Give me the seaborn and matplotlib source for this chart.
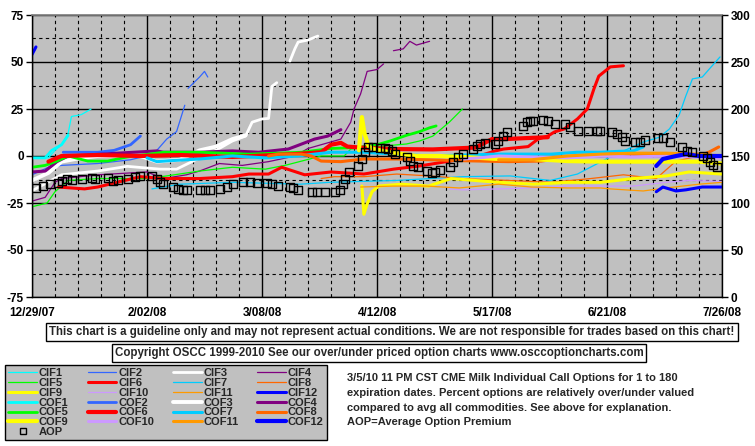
import numpy as np
import pandas as pd
import matplotlib
matplotlib.use("Agg")
import matplotlib.pyplot as plt
from matplotlib.lines import Line2D
import seaborn as sns

start = pd.Timestamp("2007-12-29")
end = pd.Timestamp("2008-07-26")

# day offsets from 12/29/07 and percent over/under values (None = gap)
cif1_d = [0, 5, 7, 9, 11, 12, 15, 18]
cif1_v = [-1, -1, 3, 6, 12, 21, 22, 25]
cof1_d = [0, 4, 6, 9, 11]
cof1_v = [-1, -1, 3, 6, 11]

cif2_d = [0, 5, 9, 20, 30, 37, 41, 44, 46.5, None, 47.5, 51, 52.5, 53.5]
cif2_v = [-10, -6, -5, -4, -2, 1, 9, 13, 27, None, 36, 42, 45, 42]
cof2_d = [9.5, 20, 25, 30, 33]
cof2_v = [2, 2, 3, 6, 10.6]

cif3_d = [0, 9, 20, 29, 39, 44, 51, 56, 61, 65, 67, 70, 72, 73, 74.5, None, 78.5, 80, 81, 84, 87]
cif3_v = [-18.5, -10, -8, -5.5, -7, -7, -1, 3, 8, 10.6, 18, 19.7, 20, 37, 39, None, 50.5, 57, 60.6, 61.7, 63.8]
cof3_d = [0, 5, 9, 15, 20, 28, 33, 38, 45, 51, 56, 61, 65]
cof3_v = [-13, -9, -3, -1, 0, 0, 0, -3, -2, 3, 5, 9, 11]

cif4_d = [0, 4, 7, 9, 20, 35, 40, 47, 51, 57, 64, 72, 80, 84, 90, 94, 97, 98, 100, 102, 105, 107,
          None, 110, 113, 115, 117, 121]
cif4_v = [-24, -22, -14, -12, -10, -8.5, -12, -10, -8, -4, -5, -3, 0, 4, 7, 9, 18, 25, 33, 45, 46, 49,
          None, 56, 57, 61, 59, 61]
cof4_d = [0, 4, 7.6, 11, 38, 40, 46, 51, 61, 69, 78, 80, 86, 90, 94]
cof4_v = [-8.5, -8, -3, 0, 2.7, 2, 2, 2, 2.7, 2, 3.7, 5, 9, 10.6, 14]

cif5_d = [0, 4.6, 7, 11, 20, 35, 41, 51, 61, 71, 77, 88, 95, 97, 114, 118, 122, 127, 131]
cif5_v = [-27, -25, -19, -13, -12, -12, -10.6, -8, -6, -7, -5, 0, 0, 3.7, 6.4, 8, 10.6, 18, 25]
cof5_d = [0, 4, 7.6, 11, 17, 23, 29, 40, 51, 66, 82, 91, 99, 105, 109, 114, 118, 121, 123]
cof5_v = [-6, -5, -2.7, 0, -2.7, -2.7, -0.5, 2, 2, 1, 2, 4, 4.5, 6, 8, 11, 13, 15, 16]

cif6_d = [8, 16, 20, 33, 40, 51, 61, 66, 72, 76, 83, 91, 101, 110, 118, 131, 136, 141, 143.5, 151,
          154, 157, 159, 162, 166, 169, 171, 172.5, 176, 180]
cif6_v = [-16.5, -17.5, -16.5, -11, -12, -12, -11, -9.6, -9.6, -6, -10, -8.5, -9.6, -7, -5.3, -1.6, 0,
          2.7, 3.7, 5, 9, 10.6, 12.8, 14.4, 19.7, 25, 35.6, 42.5, 47.4, 48]
cof6_d = [5, 9, 20, 33, 45, 61, 80, 88, 91, 94, 96, 100, 110, 122, 135, 140, 144, 150, 157]
cof6_v = [-3, 0, 0.5, 0, 0.5, -0.5, 1, 2, 6, 7, 5, 4.5, 3.7, 3.5, 4.5, 9, 9, 9.5, 10]

cif7_d = [36.5, 45, 61, 81.6, 90.7, 111, 131, 145.5, 157.7, 166, 170.7, 176, 186, 191, 194, 197,
          199, 201, 204, 206, 209.4]
cif7_v = [-17.5, -15, -14, -15, -14, -13, -11, -10.6, -13, -9.6, -5.3, -0.5, 7.4, 10, 14.4, 22,
          32, 41, 42, 46, 52.7]
cof7_d = [35, 38, 42, 51, 61, 71, 81, 91, 101, 111, 121, 131, 141, 151, 158, 166, 173, 179, 183, 186]
cof7_v = [-1, -3, -2.5, -1.6, 0, -1, 0, 2, 2, 1, 0, 0.5, 1, 1, 1, 2, 2, 2.5, 2.7, 4.8]

cif8_d = [88, 92, 101, 111, 121, 131, 145, 158, 170, 180, 190, 196, 203, 207, 209]
cif8_v = [-12, -11, -11, -9.6, -10.6, -12, -13, -14, -12, -10, -12, -2.7, 0, 2.7, 4.8]
cof8_d = [72, 75, 82, 85, 88, 94, 101, 111, 121, 131, 145, 155, 166, 176, 186, 196, 203, 206, 209]
cof8_v = [0, 1, 1, 0, -2.7, -3, -1.6, -1.6, -2, -2.5, -3, -2.7, 0, 1, 1, 1, 0, 2, 4.8]

cif9_d = [100.4, 101, 102, 103.5, 105.5, 112.5, 120.7, 127.5, 142, 152.5, 163, 173, 183, 193, 200, 210]
cif9_v = [-16, -31, -25.5, -19, -16, -15, -16, -12, -14, -15, -14, -14, -12, -10.6, -8.5, -9.6]
cof9_d = [99.5, 100.4, 101.2, 102.5, 104, 109, 117, 124, 131, 142, 152, 163, 173, 183, 193, 203, 210]
cof9_v = [3, 20.7, 12, 5, 3.7, 2, 0, 0, -0.5, -1.6, -1.6, -2.7, -3, -3, -3, -3, -4]

cif10_d = [127, 131, 142, 152, 163, 173, 183, 193, 200, 210]
cif10_v = [-17.5, -18, -17.5, -17, -16, -16, -16, -14, -13, -13.5]
cof10_d = [131, 136, 142, 152, 163, 173, 183, 193, 203, 210]
cof10_v = [-1.6, -1, 0, -0.5, -1, 0, -0.5, 0, -0.5, -1]

cif11_d = [100, 110, 120, 130, 142, 152, 163, 173, 176, 186, 193, 203, 210]
cif11_v = [-16.5, -16, -16, -17, -15, -16.5, -17, -17, -17.5, -18.6, -17, -15, -14]
cof11_d = [142, 152, 163, 173, 183, 193, 203, 210]
cof11_v = [-2, -2, 0, 1, 1.5, 1.5, 1, 0]

cif12_d = [0, 1.2, None, 190, 192, 196, 199, 204, 210]
cif12_v = [54, 58, None, -19, -16.5, -18.6, -18, -16.5, -16.5]
cof12_d = [190, 192, 196, 199, 203, 210]
cof12_v = [-5.3, -1.6, 0, 1, 0, 0]

# average option premium (right axis)
aop_d = [1.2, 3.3, 5.5, 7.9, 9.1, 10.7, 12.2, 15.2, 18.3, 19.2,
         23.1, 24.7, 26.2, 29.2, 31.3, 32.9, 36.5, 38, 39, 39.9,
         42.9, 44.4, 46, 47.2, 51.1, 52.7, 54.2, 57.2, 59.3, 61.2,
         64.2, 66.3, 68.5, 71.5, 73, 74.9, 78.5, 79.4, 81, 85.2,
         86.7, 89.2, 92.2, 93.7, 94.7, 95.3, 96.5, 99.2, 100.4, 101.3,
         102.3, 103.8, 105.9, 107.4, 108.3, 109.6, 110.5, 114.1, 115, 116,
         117.5, 120.2, 121.7, 122.7, 124.2, 127.2, 128.1, 129.7, 131.2, 134.2,
         135.4, 136.3, 137.9, 140.9, 141.8, 143.3, 144.6, 149.4, 150.7, 151.6,
         152.5, 155.5, 157, 159.2, 162.2, 163.7, 166.2, 169.2, 172, 172.9,
         176.5, 178, 179.6, 180.5, 183.5, 185, 186.6, 190.5, 192, 194.2,
         197.8, 199.3, 200.9, 204.2, 205.4, 206.3, 207.3, 208.5]
aop_v = [116, 118, 120, 121, 123, 125.5, 124.5, 125.5, 126.6, 125.5,
         126.6, 123, 124.5, 125.5, 127.7, 128.7, 128.7, 125.5, 122, 120,
         117, 115, 114, 114, 114, 114, 114, 115, 117, 120,
         122, 122, 121, 121, 120, 118, 117, 116, 114, 112,
         112, 112, 112, 114, 120, 125.5, 133, 139, 147, 154,
         159.6, 159.6, 158.5, 158.5, 157.4, 155.3, 152, 149, 144.7, 139,
         138.3, 134, 132, 133, 135, 138.3, 143.6, 149, 152, 157.4,
         160.6, 162.8, 163.8, 162.8, 166, 171, 175.5, 182, 186, 187,
         187, 188, 187, 184, 184, 181, 176.6, 176.6, 176.6, 176.6,
         175.5, 173.4, 170, 166, 165, 165, 167, 169, 169, 165,
         159.6, 155.3, 154, 150, 148, 143.6, 140.4, 138.3]

names = ["CIF1", "CIF2", "CIF3", "CIF4", "CIF5", "CIF6", "CIF7", "CIF8", "CIF9", "CIF10", "CIF11", "CIF12",
         "COF1", "COF2", "COF3", "COF4", "COF5", "COF6", "COF7", "COF8", "COF9", "COF10", "COF11", "COF12"]
base_colors = ["#00FFFF", "#3366FF", "#FFFFFF", "#800080", "#00FF00", "#FF0000",
               "#00CCFF", "#FF6600", "#FFFF00", "#CC99FF", "#FF9900", "#0000FF"]
cif_widths = [0.9, 0.9, 2.0, 0.9, 0.9, 2.2, 0.9, 0.9, 2.2, 0.9, 0.9, 2.2]
cof_widths = [2.0, 2.0, 2.8, 2.2, 2.0, 3.0, 2.2, 2.2, 3.0, 2.2, 2.2, 3.0]
series = [(cif1_d, cif1_v), (cif2_d, cif2_v), (cif3_d, cif3_v), (cif4_d, cif4_v),
          (cif5_d, cif5_v), (cif6_d, cif6_v), (cif7_d, cif7_v), (cif8_d, cif8_v),
          (cif9_d, cif9_v), (cif10_d, cif10_v), (cif11_d, cif11_v), (cif12_d, cif12_v),
          (cof1_d, cof1_v), (cof2_d, cof2_v), (cof3_d, cof3_v), (cof4_d, cof4_v),
          (cof5_d, cof5_v), (cof6_d, cof6_v), (cof7_d, cof7_v), (cof8_d, cof8_v),
          (cof9_d, cof9_v), (cof10_d, cof10_v), (cof11_d, cof11_v), (cof12_d, cof12_v)]
colors = base_colors + base_colors
widths = cif_widths + cof_widths


def segments(days, vals):
    segs, cur = [], []
    for d, v in zip(days, vals):
        if d is None:
            segs.append(cur)
            cur = []
        else:
            cur.append((d, v))
    segs.append(cur)
    return segs


sns.set_theme(style="white")
plt.rcParams["font.family"] = ["Liberation Sans", "DejaVu Sans"]
plt.rcParams["font.weight"] = "bold"

fig = plt.figure(figsize=(7.55, 4.46), dpi=100, facecolor="white")
ax = fig.add_axes([32 / 755, 1 - 297 / 446, 690 / 755, 282 / 446])
ax.set_facecolor("#C0C0C0")

for (d, v), c, lw in zip(series, colors, widths):
    for seg in segments(d, v):
        df = pd.DataFrame(seg, columns=["day", "val"])
        df["date"] = start + pd.to_timedelta(df["day"], unit="D")
        sns.lineplot(data=df, x="date", y="val", ax=ax, color=c, linewidth=lw,
                     estimator=None, sort=False, legend=False)

ax.set_xlim(start, end)
ax.set_ylim(-75, 75)
ax.set_xlabel("")
ax.set_ylabel("")
major_dates = pd.date_range(start, end, freq="35D")
minor_dates = pd.date_range(start, end, freq="7D")
ax.set_xticks(major_dates)
ax.set_xticks(minor_dates, minor=True)
ax.set_xticklabels([f"{t.month}/{t:%d/%y}" for t in major_dates], fontsize=8.5, fontweight="bold")
ax.set_yticks(np.arange(-75, 76, 25))
ax.set_yticks(np.arange(-62.5, 63, 25), minor=True)
ax.set_yticklabels([str(t) for t in range(-75, 76, 25)], fontsize=8.5, fontweight="bold")
ax.tick_params(axis="x", which="both", length=0, pad=7, colors="black")
ax.tick_params(axis="y", which="major", length=4, width=1, direction="out", left=True, colors="black", pad=2)
ax.tick_params(axis="y", which="minor", length=0)
ax.set_axisbelow(True)
ax.grid(which="major", color="black", linewidth=1.0, linestyle="-")
ax.grid(which="minor", color="black", linewidth=0.8, linestyle=(0, (3, 3)))
for s in ["left", "bottom", "right"]:
    ax.spines[s].set_color("black")
    ax.spines[s].set_linewidth(1)
ax.spines["top"].set_color("#808080")

ax2 = ax.twinx()
aop_dates = start + pd.to_timedelta(aop_d, unit="D")
sns.scatterplot(x=aop_dates, y=aop_v, ax=ax2, marker="s", s=32, color="none",
                edgecolor="black", linewidth=1.0, legend=False, zorder=5)
ax2.set_xlim(start, end)
ax2.set_ylim(0, 300)
ax2.set_yticks(np.arange(0, 301, 50))
ax2.set_yticklabels([str(t) for t in range(0, 301, 50)], fontsize=8.5, fontweight="bold")
ax2.tick_params(axis="y", length=4, width=1, direction="out", right=True, colors="black", pad=2)
ax2.grid(False)
for s in ax2.spines.values():
    s.set_visible(False)

box = dict(boxstyle="square,pad=0.25", facecolor="white", edgecolor="black", linewidth=1)
fig.text(392 / 755, 1 - 332 / 446,
         "This chart is a guideline only and may not represent actual conditions. "
         "We are not responsible for trades based on this chart!",
         ha="center", va="center", fontsize=8.3, fontweight="bold", bbox=box)
fig.text(379 / 755, 1 - 353 / 446,
         "Copyright OSCC 1999-2010 See our over/under priced option charts www.osccoptioncharts.com",
         ha="center", va="center", fontsize=8.3, fontweight="bold", bbox=box)

fig.text(347 / 755, 1 - 373 / 446,
         "3/5/10 11 PM CST CME Milk Individual Call Options for 1 to 180\n"
         "expiration dates. Percent options are relatively over/under valued\n"
         "compared to avg all commodities. See above for explanation.\n"
         "AOP=Average Option Premium",
         ha="left", va="top", fontsize=8, fontweight="bold", linespacing=1.6)

# legend entries laid out row by row (4 per row), matplotlib fills column by column
handles = [Line2D([], [], color=c, linewidth=lw) for c, lw in zip(colors, widths)]
handles.append(Line2D([], [], color="black", marker="s", markersize=4.5, markerfacecolor="none",
                      markeredgewidth=1, linestyle="none"))
labels = names + ["AOP"]
order = [r * 4 + c for c in range(4) for r in range(7) if r * 4 + c < len(labels)]
leg = fig.legend([handles[i] for i in order], [labels[i] for i in order], ncol=4, loc="upper left",
                 bbox_to_anchor=(5 / 755, 1 - 365 / 446),
                 frameon=True, fancybox=False, framealpha=1, facecolor="#C0C0C0", edgecolor="black",
                 prop={"size": 8, "weight": "bold"}, handlelength=2.6, handletextpad=0.15,
                 columnspacing=1.7, labelspacing=-0.02, borderpad=0.3, borderaxespad=0)
leg.get_frame().set_linewidth(1)

fig.savefig("out.png", dpi=100, facecolor="white")
